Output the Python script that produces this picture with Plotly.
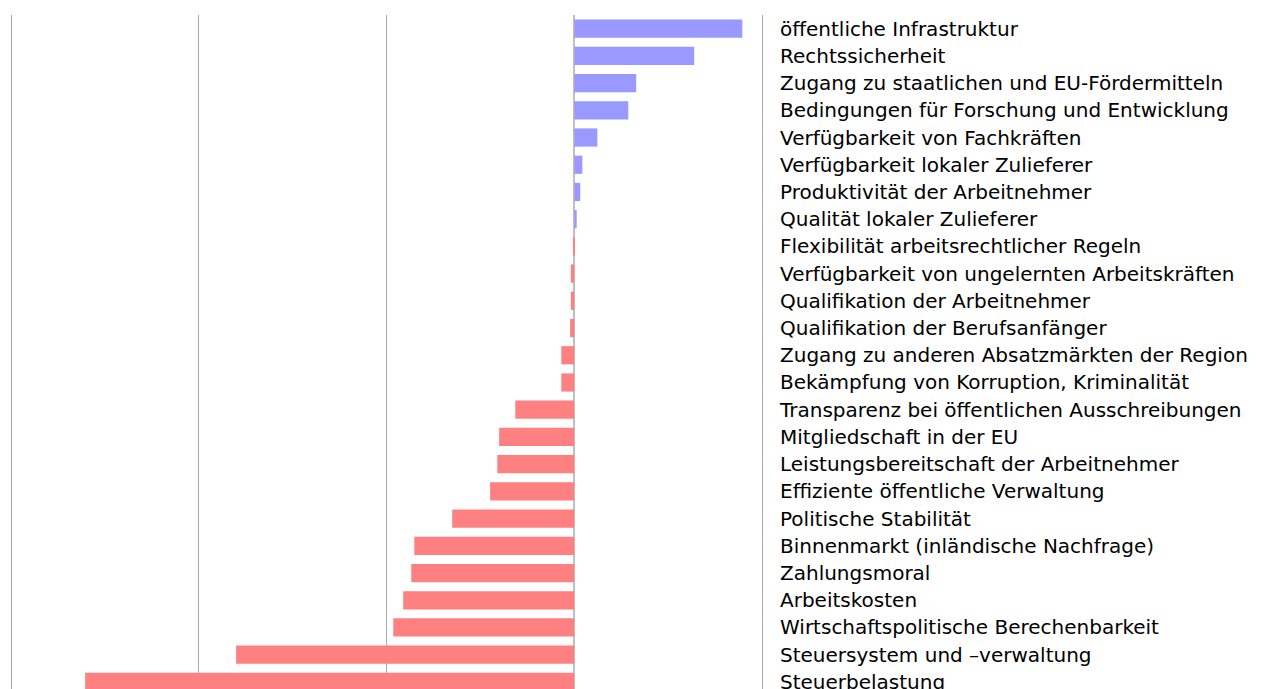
import plotly.graph_objects as go

categories = [
    "öffentliche Infrastruktur",
    "Rechtssicherheit",
    "Zugang zu staatlichen und EU-Fördermitteln",
    "Bedingungen für Forschung und Entwicklung",
    "Verfügbarkeit von Fachkräften",
    "Verfügbarkeit lokaler Zulieferer",
    "Produktivität der Arbeitnehmer",
    "Qualität lokaler Zulieferer",
    "Flexibilität arbeitsrechtlicher Regeln",
    "Verfügbarkeit von ungelernten Arbeitskräften",
    "Qualifikation der Arbeitnehmer",
    "Qualifikation der Berufsanfänger",
    "Zugang zu anderen Absatzmärkten der Region",
    "Bekämpfung von Korruption, Kriminalität",
    "Transparenz bei öffentlichen Ausschreibungen",
    "Mitgliedschaft in der EU",
    "Leistungsbereitschaft der Arbeitnehmer",
    "Effiziente öffentliche Verwaltung",
    "Politische Stabilität",
    "Binnenmarkt (inländische Nachfrage)",
    "Zahlungsmoral",
    "Arbeitskosten",
    "Wirtschaftspolitische Berechenbarkeit",
    "Steuersystem und –verwaltung",
    "Steuerbelastung",
]

values = [
    0.895, 0.639, 0.330, 0.288, 0.123, 0.043, 0.032, 0.013,
    -0.007, -0.018, -0.018, -0.022, -0.069, -0.069, -0.314,
    -0.400, -0.410, -0.448, -0.650, -0.852, -0.868, -0.911,
    -0.964, -1.801, -2.605,
]

x_ticks = [-3, -2, -1, 0, 1]

colors = ["#9999ff" if v >= 0 else "#ff8080" for v in values]

fig = go.Figure(
    go.Bar(
        x=values,
        y=categories,
        orientation="h",
        marker=dict(color=colors, line=dict(width=0)),
        hoverinfo="x+y",
    )
)

n = len(categories)
px_per_unit = 187.75
pad = 3.0 / px_per_unit
fig.update_layout(
    width=1260,
    height=681,
    margin=dict(l=0, r=503, t=7, b=0, autoexpand=False),
    paper_bgcolor="white",
    plot_bgcolor="white",
    bargap=0.33,
    showlegend=False,
    font=dict(family="DejaVu Sans, sans-serif", size=20, color="black"),
)
fig.update_xaxes(
    range=[x_ticks[0] - pad, x_ticks[-1] + pad],
    tickvals=x_ticks,
    showticklabels=False,
    showgrid=True,
    gridcolor="#aaaaaa",
    gridwidth=1,
    zeroline=True,
    zerolinecolor="#c0c0c0",
    zerolinewidth=2,
    showline=False,
    automargin=False,
    fixedrange=True,
)
fig.update_yaxes(
    type="category",
    categoryorder="array",
    categoryarray=categories,
    range=[n - 1 + 0.26, -0.5],
    side="right",
    showgrid=False,
    zeroline=False,
    showline=False,
    ticks="",
    ticklabelstandoff=14,
    tickfont=dict(family="DejaVu Sans, sans-serif", size=20, color="black"),
    automargin=False,
    fixedrange=True,
)

fig.write_html("out.html")
